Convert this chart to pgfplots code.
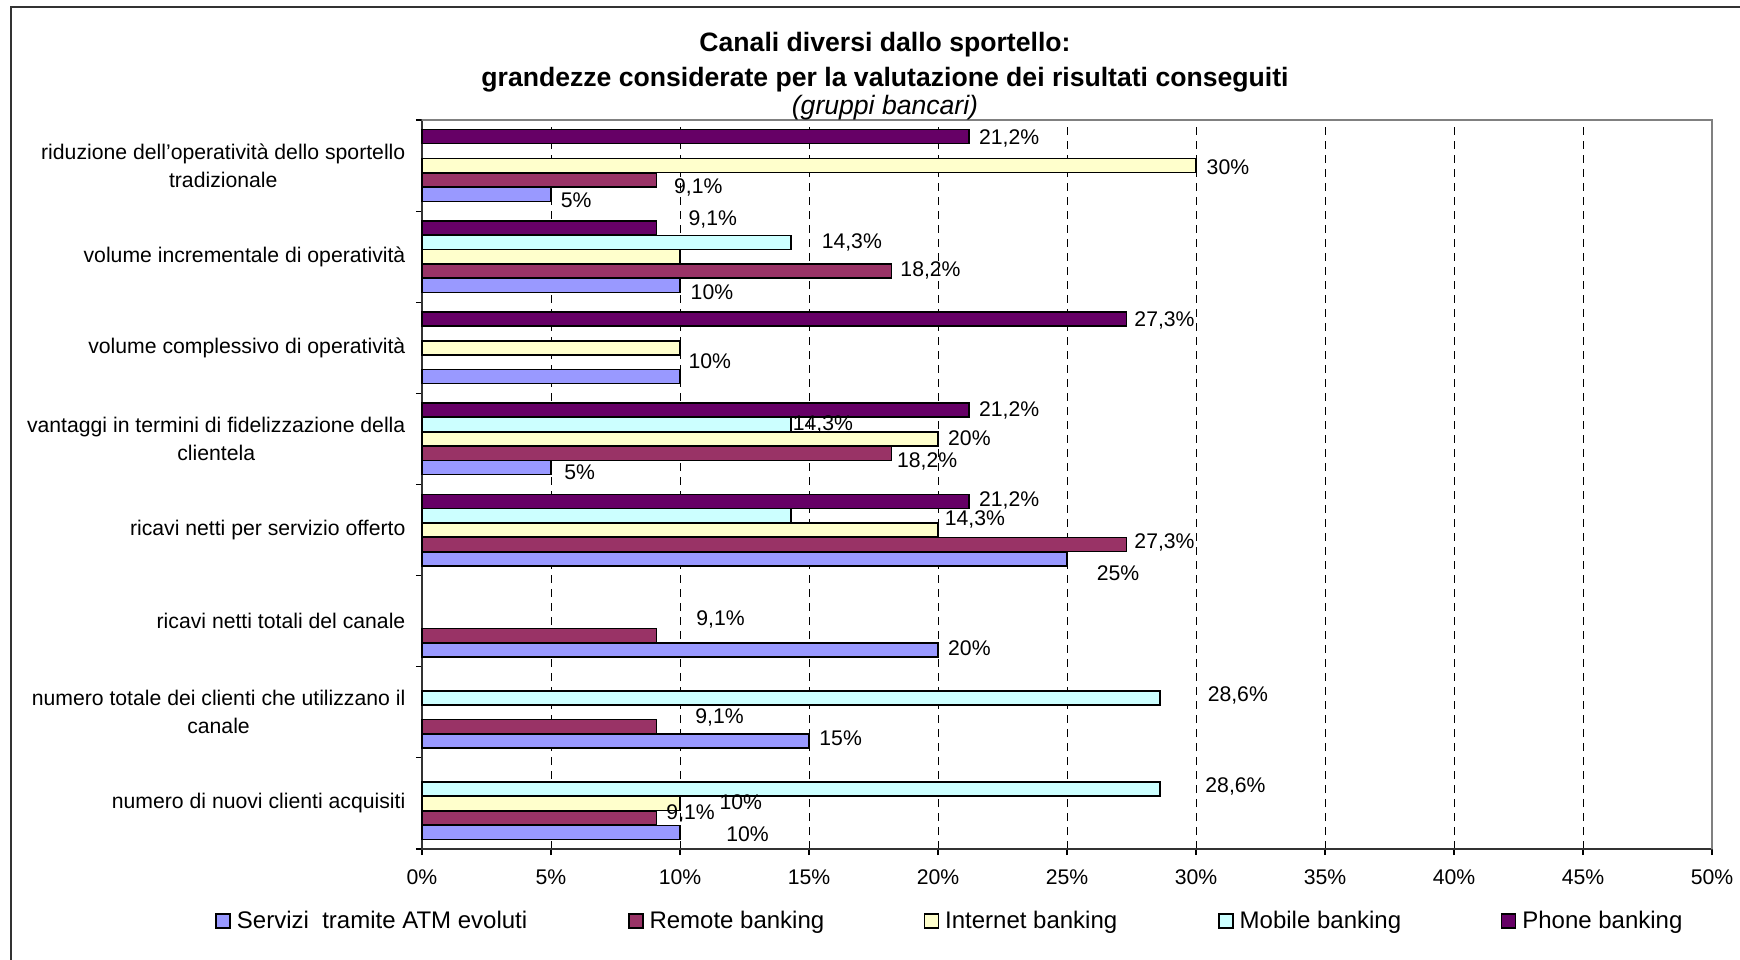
\documentclass[border=0pt]{standalone}
\usepackage{pgfplots}
\pgfplotsset{compat=1.18}
\usepackage{fontspec}
\setmainfont{Liberation Sans}

\definecolor{cATM}{HTML}{9999FF}
\definecolor{cRem}{HTML}{993366}
\definecolor{cInt}{HTML}{FFFFCC}
\definecolor{cMob}{HTML}{CCFFFF}
\definecolor{cPho}{HTML}{660066}

\newcommand\fs{\fontsize{10.6pt}{13.9pt}\selectfont}
\newcommand\fl{\fontsize{12pt}{14pt}\selectfont}
\newcommand\ft{\fontsize{13.3pt}{15pt}\selectfont}

% categories: 0 = bottom (numero di nuovi clienti) ... 7 = top (riduzione)
\pgfplotstableread{
x y
10 0
15 1
20 2
25 3
5 4
10 5
10 6
5 7
}\atm
\pgfplotstableread{
x y
9.1 0
9.1 1
9.1 2
27.3 3
18.2 4
18.2 6
9.1 7
}\remote
\pgfplotstableread{
x y
10 0
20 3
20 4
10 5
10 6
30 7
}\internet
\pgfplotstableread{
x y
28.6 0
28.6 1
14.3 3
14.3 4
14.3 6
}\mobile
\pgfplotstableread{
x y
21.2 3
21.2 4
27.3 5
9.1 6
21.2 7
}\phone
% data labels, placed where the source chart shows them
\pgfplotstableread{
x y lab
21.58 7.293 21,2
30.4 6.977 30
9.76 6.757 9,1
5.37 6.624 5
10.32 6.404 9,1
15.48 6.161 14,3
18.53 5.844 18,2
10.40 5.613 10
27.60 5.296 27,3
10.32 4.858 10
21.58 4.310 21,2
14.36 4.164 14,3
20.38 4.005 20
18.40 3.750 18,2
5.50 3.640 5
21.58 3.324 21,2
20.25 3.117 14,3
27.60 2.861 27,3
26.14 2.532 25
10.62 2.021 9,1
20.38 1.704 20
30.44 1.180 28,6
10.58 0.949 9,1
15.39 0.718 15
30.35 0.182 28,6
11.52 0.011 10
9.46 -0.110 9,1
11.78 -0.342 10
}\labels

\begin{document}
\begin{tikzpicture}
\pgfplotsset{
  sq/.style={legend image code/.code={\draw[##1,draw=black,line width=0.8pt] (0pt,-3.5pt) rectangle (7pt,3.5pt);}},
  hb/.style={xbar, bar width=7pt, draw=black, line width=0.7pt, fill=#1, sq}
}
\begin{axis}[
  at={(0,0)}, anchor=south west,
  scale only axis,
  width=645pt, height=364.5pt,
  xmin=0, xmax=50, ymin=-0.5, ymax=7.5,
  clip=false,
  font=\fs,
  axis line style={black!80, line width=0.8pt},
  xtick={0,5,...,50},
  xticklabels={0\%,5\%,10\%,15\%,20\%,25\%,30\%,35\%,40\%,45\%,50\%},
  xtick pos=left, ytick pos=left,
  tick align=outside,
  major tick length=3pt,
  tick style={black, line width=0.6pt},
  xmajorgrids,
  major grid style={black, line width=0.4pt, dash pattern=on 4pt off 3pt},
  ytick={-0.5,0.5,...,7.5},
  yticklabels={},
  extra y ticks={0,1,2,3,4,5,6,7},
  extra y tick labels={
    {numero di nuovi clienti acquisiti},
    {numero totale dei clienti che utilizzano il\\canale},
    {ricavi netti totali del canale},
    {ricavi netti per servizio offerto},
    {vantaggi in termini di fidelizzazione della\\clientela},
    {volume complessivo di operatività},
    {volume incrementale di operatività},
    {riduzione dell’operatività dello sportello\\tradizionale}},
  extra y tick style={major tick length=0pt, grid=none,
    yticklabel style={align=center, xshift=-4.8pt}},
  tick label style={font=\fs},
  xticklabel style={yshift=-4pt},
  legend columns=5,
  legend style={at={(axis description cs:-0.1605,-0.099)}, anchor=west,
    draw=none, inner sep=0pt, font=\fl,
    nodes={inner sep=0pt, anchor=west},
    /tikz/every odd column/.style={column sep=3pt},
    /tikz/every even column/.style={column sep=0pt}},
]
\addplot[hb=cATM, bar shift=-14.4pt] table {\atm};
\addlegendentry{\makebox[195.5pt][l]{Servizi\ \ tramite ATM evoluti}}
\addplot[hb=cRem, bar shift=-7.2pt] table {\remote};
\addlegendentry{\makebox[137pt][l]{Remote banking}}
\addplot[hb=cInt, bar shift=0pt] table {\internet};
\addlegendentry{\makebox[136.5pt][l]{Internet banking}}
\addplot[hb=cMob, bar shift=7.2pt] table {\mobile};
\addlegendentry{\makebox[130.5pt][l]{Mobile banking}}
\addplot[hb=cPho, bar shift=14.4pt] table {\phone};
\addlegendentry{Phone banking}
\addplot[draw=none, mark=none, forget plot,
  nodes near coords={\pgfplotspointmeta\%},
  point meta=explicit symbolic,
  nodes near coords style={anchor=west, inner sep=0pt, font=\fs, text=black}]
  table[meta=lab] {\labels};
\end{axis}
% plot area border (top and right) and outer frame
\draw[black!50, line width=1pt] (0,364.5pt) -- (645pt,364.5pt) -- (645pt,0);
\draw[black!80, line width=0.8pt] (-205.5pt,-60pt) -- (-205.5pt,421pt) -- (665pt,421pt);
% title
\node[font=\bfseries\ft] at (231.5pt,402pt) {Canali diversi dallo sportello:};
\node[font=\bfseries\ft] at (231.5pt,384.5pt) {grandezze considerate per la valutazione dei risultati conseguiti};
\node[font=\itshape\ft] at (231.5pt,370.5pt) {(gruppi bancari)};
\pgfresetboundingbox
\path[use as bounding box] (-211pt,-55pt) rectangle (659pt,424.5pt);
\end{tikzpicture}
\end{document}
